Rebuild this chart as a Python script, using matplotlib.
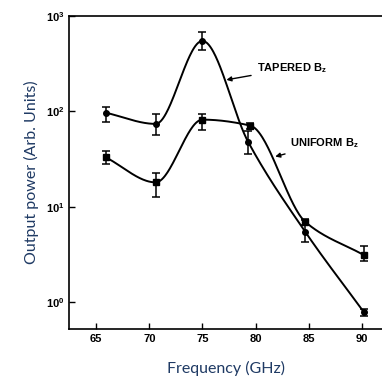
import numpy as np
import matplotlib
matplotlib.use('Agg')
import matplotlib.pyplot as plt

plt.rcParams['font.family'] = 'Liberation Sans'
plt.rcParams['mathtext.fontset'] = 'custom'
plt.rcParams['mathtext.rm'] = 'Liberation Sans:bold'
plt.rcParams['mathtext.bf'] = 'Liberation Sans:bold'

# tapered Bz
freq_tap = [65.9, 70.6, 75.0, 79.3, 84.7, 90.2]
pow_tap = [97, 74, 550, 48, 5.4, 0.78]
lo_tap = [78, 57, 440, 36, 4.3, 0.72]
hi_tap = [110, 93, 680, 62, 7.3, 0.85]

# uniform Bz
freq_uni = [65.9, 70.6, 75.0, 79.5, 84.7, 90.2]
pow_uni = [33, 18, 82, 71, 6.9, 3.1]
lo_uni = [28, 12.7, 64, 66, 6.4, 2.7]
hi_uni = [38.5, 22.7, 95, 76, 7.5, 3.9]

xticks = [65, 70, 75, 80, 85, 90]
yticks = [1, 10, 100, 1000]
ylabels = [r'$\mathbf{10^{0}}$', r'$\mathbf{10^{1}}$', r'$\mathbf{10^{2}}$', r'$\mathbf{10^{3}}$']


def smooth(x, y, n=60):
    # monotone cubic (fritsch-carlson) through the points, in log space
    x = np.asarray(x, float)
    ly = np.log10(y)
    h = np.diff(x)
    d = np.diff(ly) / h
    m = np.zeros_like(ly)
    m[0], m[-1] = d[0], d[-1]
    for i in range(1, len(x) - 1):
        if d[i - 1] * d[i] > 0:
            w1 = 2 * h[i] + h[i - 1]
            w2 = h[i] + 2 * h[i - 1]
            m[i] = (w1 + w2) / (w1 / d[i - 1] + w2 / d[i])
    xs, ys = [], []
    for i in range(len(x) - 1):
        t = np.linspace(0, 1, n)
        h00 = 2 * t**3 - 3 * t**2 + 1
        h10 = t**3 - 2 * t**2 + t
        h01 = -2 * t**3 + 3 * t**2
        h11 = t**3 - t**2
        xs.append(x[i] + t * h[i])
        ys.append(h00 * ly[i] + h10 * h[i] * m[i] + h01 * ly[i + 1] + h11 * h[i] * m[i + 1])
    return np.concatenate(xs), 10 ** np.concatenate(ys)


fig = plt.figure(figsize=(3.82, 3.76), dpi=100)
ax = fig.add_axes([0.181, 0.125, 0.819, 0.832])

for fx, py, lo, hi, mk in [(freq_tap, pow_tap, lo_tap, hi_tap, 'o'),
                           (freq_uni, pow_uni, lo_uni, hi_uni, 's')]:
    sx, sy = smooth(fx, py)
    ax.plot(sx, sy, color='black', lw=1.4)
    py = np.array(py)
    err = [py - np.array(lo), np.array(hi) - py]
    ax.errorbar(fx, py, yerr=err, fmt=mk, color='black', ms=4,
                elinewidth=1.1, capsize=3, capthick=1.1)

ax.set_yscale('log')
ax.set_xlim(62.46, 91.9)
ax.set_ylim(0.52, 1000)
ax.set_xticks(xticks)
ax.set_xticklabels([str(t) for t in xticks], fontweight='bold', fontsize=8)
ax.set_yticks(yticks)
ax.set_yticklabels(ylabels, fontsize=8)
ax.yaxis.set_minor_locator(matplotlib.ticker.NullLocator())
ax.tick_params(direction='in', length=4, width=1)
ax.spines['right'].set_visible(False)
for s in ['left', 'bottom', 'top']:
    ax.spines[s].set_linewidth(1.2)

ax.annotate(r'TAPERED B$_\mathbf{z}$', xy=(77.0, 212), xytext=(80.1, 284),
            fontsize=8, fontweight='bold', va='center',
            arrowprops=dict(arrowstyle='-|>', color='black', lw=1, mutation_scale=7))
ax.annotate(r'UNIFORM B$_\mathbf{z}$', xy=(81.6, 33), xytext=(83.2, 46),
            fontsize=8, fontweight='bold', va='center',
            arrowprops=dict(arrowstyle='-|>', color='black', lw=1, mutation_scale=7))

navy = '#1f3a64'
ax.set_xlabel('Frequency (GHz)', fontsize=11.5, color=navy, family='Lato', labelpad=12)
ax.set_ylabel('Output power (Arb. Units)', fontsize=11.5, color=navy, family='Lato', labelpad=5)

fig.savefig('out.png', dpi=100)
